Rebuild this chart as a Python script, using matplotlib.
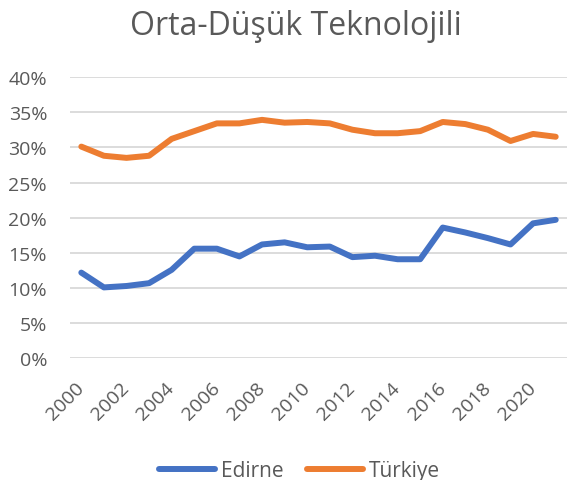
import matplotlib
matplotlib.use("Agg")
import matplotlib.pyplot as plt
from matplotlib.ticker import PercentFormatter

plt.rcParams['font.family'] = ['Open Sans', 'DejaVu Sans']

years = list(range(2000, 2022))
edirne = [12.2, 10.1, 10.3, 10.7, 12.6, 15.6, 15.6, 14.5, 16.2, 16.5, 15.8,
          15.9, 14.4, 14.6, 14.1, 14.1, 18.6, 17.9, 17.1, 16.2, 19.2, 19.7]
turkiye = [30.1, 28.8, 28.5, 28.8, 31.2, 32.3, 33.4, 33.4, 33.9, 33.5, 33.6,
           33.4, 32.5, 32.0, 32.0, 32.3, 33.6, 33.3, 32.5, 30.9, 31.9, 31.5]
title = "Orta-Düşük Teknolojili"
xtick_labels = [str(y) for y in range(2000, 2022, 2)]

fig = plt.figure(figsize=(5.67, 4.81), dpi=100)
ax = fig.add_axes([0.1235, 0.2526, 0.8765, 0.5854])

c_blue = '#4472C4'
c_orange = '#ED7D31'
ax.plot(years, edirne, color=c_blue, lw=4.3, label='Edirne', solid_capstyle='round', zorder=3)
ax.plot(years, turkiye, color=c_orange, lw=4.3, label='Türkiye', solid_capstyle='round', zorder=3)

ax.set_ylim(0, 40)
ax.set_xlim(1999.5, 2021.5)
ax.set_yticks(range(0, 41, 5))
ax.yaxis.set_major_formatter(PercentFormatter(decimals=0))
ax.set_xticks(range(2000, 2022, 2))
ax.set_xticklabels(xtick_labels, rotation=45, ha='right', va='center', rotation_mode='anchor')

ax.grid(axis='y', color='#D9D9D9', lw=1.3, zorder=0)
ax.set_axisbelow(True)
for s in ax.spines.values():
    s.set_visible(False)
ax.tick_params(axis='both', length=0, labelsize=14, colors='#595959')
ax.tick_params(axis='y', pad=16.5)
ax.tick_params(axis='x', pad=19)

fig.text(0.521, 0.927, title, ha='center', va='baseline', fontsize=23, color='#595959')

leg = fig.legend(loc='center', bbox_to_anchor=(0.528, 0.02), ncol=2, frameon=False,
                 fontsize=15, handlelength=2.7, columnspacing=1.15, handletextpad=0.25)
for t in leg.get_texts():
    t.set_color('#595959')

fig.savefig('out.png', dpi=100)
